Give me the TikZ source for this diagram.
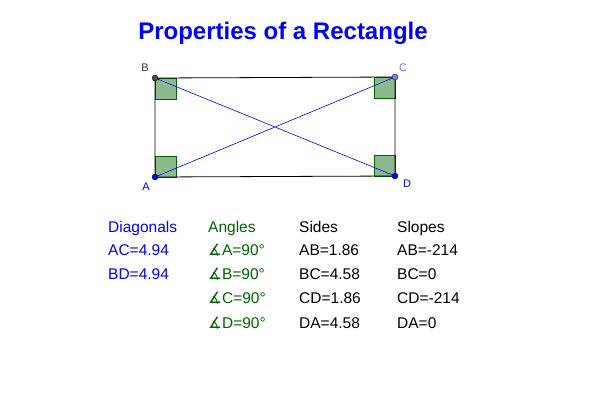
\documentclass[tikz,border=0pt]{standalone}
\usepackage{fontspec}
\setmainfont{Liberation Sans}
\newfontfamily\djv{DejaVu Sans}
\definecolor{dg}{RGB}{0,100,0}
\definecolor{ttl}{RGB}{0,0,255}
\begin{document}
\begin{tikzpicture}[x=1pt,y=-1pt,
 txt/.style={anchor=base west,inner sep=0pt,font=\fontsize{15.5}{17}\selectfont},
 sq/.style={draw=dg,fill=dg!45,line width=0.6pt},
 pt/.style={circle,fill=#1,draw=black,line width=0.3pt,inner sep=0pt,minimum size=6pt},
 lbl/.style={inner sep=0pt,font=\fontsize{11}{13}\selectfont}]
\useasboundingbox (0,0) rectangle (610,405);
\node[font=\bfseries\fontsize{24}{27}\selectfont,text=ttl] (title) at (283,33) {Properties of a Rectangle};
\coordinate (A) at (155,177);
\coordinate (B) at (155,78);
\coordinate (C) at (395,77);
\coordinate (D) at (395,176);
\draw[sq] (A) rectangle ++(21,-21);
\draw[sq] (B) rectangle ++(21,21);
\draw[sq] (C) rectangle ++(-21,21);
\draw[sq] (D) rectangle ++(-21,-21);
\draw[line width=0.8pt] (A) -- (B) -- (C) -- (D) -- cycle;
\draw[blue,line width=0.6pt] (A) -- (C) (B) -- (D);
\node[pt=blue] (pa) at (A) {};
\node[pt=black!70] (pb) at (B) {};
\node[pt=blue!50] (pc) at (C) {};
\node[pt=blue] (pd) at (D) {};
\node[lbl,text=blue] (la) at (146,187) {A};
\node[lbl,text=black!80] (lb) at (145,68) {B};
\node[lbl,text=blue!55] (lc) at (403,68) {C};
\node[lbl,text=blue] (ld) at (407,184) {D};
\node[txt,text=blue] (d1) at (108,232) {Diagonals};
\node[txt,text=blue] (d2) at (108,255) {AC=4.94};
\node[txt,text=blue] (d3) at (108,279) {BD=4.94};
\node[txt,text=dg] (a1) at (208,232) {Angles};
\node[txt,text=dg] (a2) at (208,255) {{\djv ∡}A=90°};
\node[txt,text=dg] (a3) at (208,279) {{\djv ∡}B=90°};
\node[txt,text=dg] (a4) at (208,303) {{\djv ∡}C=90°};
\node[txt,text=dg] (a5) at (208,328) {{\djv ∡}D=90°};
\node[txt] (s1) at (299,232) {Sides};
\node[txt] (s2) at (299,255) {AB=1.86};
\node[txt] (s3) at (299,279) {BC=4.58};
\node[txt] (s4) at (299,303) {CD=1.86};
\node[txt] (s5) at (299,328) {DA=4.58};
\node[txt] (p1) at (397,232) {Slopes};
\node[txt] (p2) at (397,255) {AB=-214};
\node[txt] (p3) at (397,279) {BC=0};
\node[txt] (p4) at (397,303) {CD=-214};
\node[txt] (p5) at (397,328) {DA=0};
\end{tikzpicture}
\end{document}
